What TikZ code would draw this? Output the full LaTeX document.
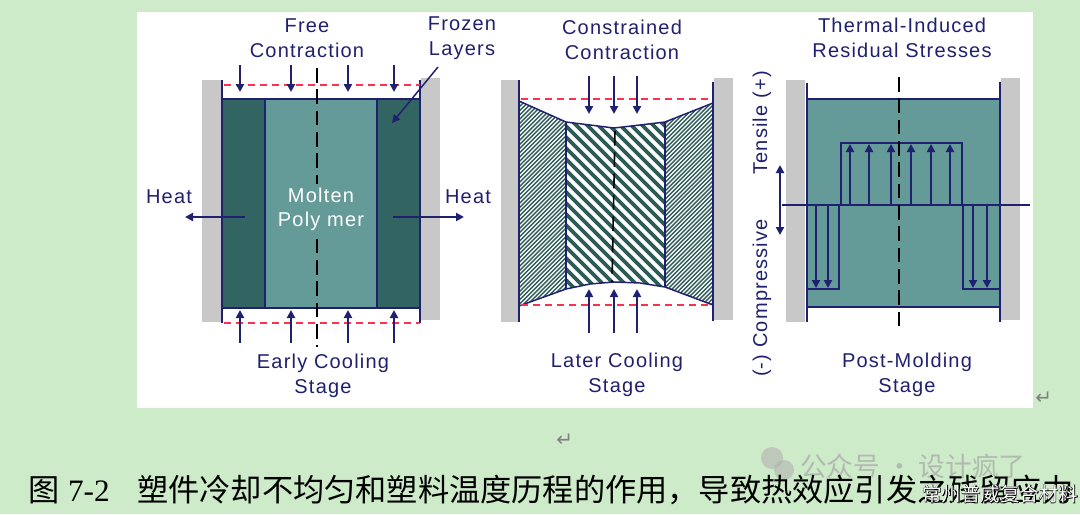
\documentclass[tikz,border=0pt]{standalone}
\usepackage{fontspec}
\setmainfont{Liberation Sans}
\newfontfamily\lblfont[LetterSpace=6]{Liberation Sans}
\newfontfamily\cjk{Noto Sans CJK SC}
\newfontfamily\cjkbold[FakeBold=4]{Noto Sans CJK SC}
\newfontfamily\capserif{Liberation Serif}
\newfontfamily\dvs{DejaVu Sans}
\usetikzlibrary{arrows.meta}
\definecolor{navy}{RGB}{32,32,112}
\definecolor{dteal}{RGB}{50,100,98}
\definecolor{lteal}{RGB}{100,154,152}
\definecolor{hatch}{RGB}{45,92,88}
\definecolor{wallgray}{RGB}{200,200,200}
\definecolor{reddash}{RGB}{250,50,80}
\definecolor{bggreen}{RGB}{206,235,201}
\begin{document}
\begin{tikzpicture}[x=0.75pt,y=-0.75pt,
  lbl/.style={text=navy, font=\lblfont\fontsize{15}{18.7}\selectfont, align=center, inner sep=0pt},
  wallbox/.style={fill=wallgray, draw=none},
  navyline/.style={draw=navy, line width=1.5pt},
  thinnavy/.style={draw=navy, line width=1.1pt},
  reddashed/.style={draw=reddash, line width=1.4pt, dash pattern=on 5pt off 4pt},
  cline/.style={draw=black, line width=1.4pt, dash pattern=on 11pt off 5pt},
  arr/.style={draw=navy, line width=1.5pt, -{Triangle[width=6pt,length=6pt]}},
  darr/.style={draw=navy, line width=1.5pt, {Triangle[width=6pt,length=6pt]}-{Triangle[width=6pt,length=6pt]}},
  retglyph/.style={text=gray, font=\dvs\fontsize{15}{18}\selectfont, inner sep=0pt}
]
\useasboundingbox (0,0) rectangle (1080,514);
\fill[bggreen] (0,0) rectangle (1080,514);
\fill[white] (137,12) rectangle (1033,408);

% ================= LEFT PANEL =================
\fill[wallbox] (202,80) rectangle (221,322);
\fill[wallbox] (421,78) rectangle (440,320);
\fill[dteal] (222,99) rectangle (265,308);
\fill[dteal] (377,99) rectangle (420,308);
\fill[lteal] (265,99) rectangle (377,308);
\draw[navyline] (222,99) rectangle (420,308);
\draw[navyline] (265,99) -- (265,308);
\draw[navyline] (377,99) -- (377,308);
\draw[navyline] (222,80) -- (222,323);
\draw[navyline] (420,80) -- (420,323);
\draw[reddashed] (224,85) -- (420,85);
\draw[reddashed] (224,323) -- (420,323);
\foreach \x [count=\i] in {240,291,348,394} {
  \coordinate (lta\i) at (\x,65);
  \coordinate (ltb\i) at (\x,92);
  \coordinate (lba\i) at (\x,343);
  \coordinate (lbb\i) at (\x,310);
  \draw[arr] (lta\i) -- (ltb\i);
  \draw[arr] (lba\i) -- (lbb\i);
}
\coordinate (lc1) at (317,68);
\coordinate (lc2) at (317,347);
\draw[cline] (lc1) -- (lc2);
\node[fill=lteal, text=white, font=\lblfont\fontsize{15}{18}\selectfont, align=center, inner sep=3pt] (molten) at (321,209) {Molten\\Poly mer};
\coordinate (hl1) at (245,217);
\coordinate (hl2) at (185,217);
\coordinate (hr1) at (393,217);
\coordinate (hr2) at (464,217);
\draw[arr] (hl1) -- (hl2);
\draw[arr] (hr1) -- (hr2);
\node[lbl] (heatL) at (169,197) {Heat};
\node[lbl] (heatR) at (468,197) {Heat};
\node[lbl] (freec) at (307,38) {Free\\Contraction};
\node[lbl] (frozen) at (462,38) {Frozen\\Layers};
\coordinate (fz1) at (438,67);
\coordinate (fz2) at (392,123);
\draw[draw=navy, line width=1.1pt, -{Triangle[width=6pt,length=6pt]}] (fz1) -- (fz2);
\node[lbl] (early) at (323,376) {Early Cooling\\Stage};

% ================= MIDDLE PANEL =================
\fill[wallbox] (501,80) rectangle (518,322);
\fill[wallbox] (714,78) rectangle (733,320);
\begin{scope}
  \clip (519,101) -- (566,122) -- (566,289) -- (519,306) -- cycle;
  \foreach \x in {250,254.2,...,640} { \draw[hatch, line width=1.05pt] (\x,330) -- ++(260,-260); }
\end{scope}
\begin{scope}
  \clip (665,122) -- (713,103) -- (713,305) -- (665,287) -- cycle;
  \foreach \x in {400,404.2,...,800} { \draw[hatch, line width=1.05pt] (\x,330) -- ++(260,-260); }
\end{scope}
\begin{scope}
  \clip (566,122) -- (590,125) -- (614,128) -- (640,125) -- (665,122) -- (665,287) -- (640,283) -- (614,282) -- (590,284) -- (566,289) -- cycle;
  \foreach \x in {300,311,...,700} { \draw[hatch, line width=2.8pt] (\x,80) -- ++(260,260); }
\end{scope}
\draw[thinnavy, line join=round] (519,101) -- (566,122) -- (590,125) -- (614,128) -- (640,125) -- (665,122) -- (713,103);
\draw[thinnavy, line join=round] (519,306) -- (566,289) -- (590,284) -- (614,282) -- (640,283) -- (665,287) -- (713,305);
\draw[thinnavy] (566,122) -- (566,289);
\draw[thinnavy] (665,122) -- (665,287);
\draw[navyline] (519,80) -- (519,322);
\draw[navyline] (713,82) -- (713,321);
\draw[reddashed] (521,99) -- (711,99);
\draw[reddashed] (521,305) -- (711,305);
\coordinate (mc1) at (615,131);
\coordinate (mc2) at (612,282);
\draw[cline, line width=1.2pt] (mc1) -- (mc2);
\foreach \x [count=\i] in {589,614,637} {
  \coordinate (mta\i) at (\x,76);
  \coordinate (mtb\i) at (\x,114);
  \coordinate (mba\i) at (\x,333);
  \coordinate (mbb\i) at (\x,289);
  \draw[arr] (mta\i) -- (mtb\i);
  \draw[arr] (mba\i) -- (mbb\i);
}
\node[lbl] (constr) at (622,40) {Constrained\\Contraction};
\node[lbl] (later) at (617,375) {Later Cooling\\Stage};

% ================= RIGHT PANEL =================
\fill[wallbox] (786,80) rectangle (805,322);
\fill[wallbox] (1001,78) rectangle (1020,320);
\fill[lteal] (807,99) rectangle (1000,307);
\draw[navyline] (807,99) -- (1000,99);
\draw[navyline] (807,307) -- (1000,307);
\draw[navyline] (807,83) -- (807,322);
\draw[navyline] (1000,82) -- (1000,322);
\draw[navyline] (841,205) rectangle (962,143);
\draw[navyline] (807,205) rectangle (839,289);
\draw[navyline] (963,205) rectangle (1000,289);
\foreach \x [count=\i] in {850,869,891,911,931,950} {
  \coordinate (ra\i) at (\x,205);
  \coordinate (rb\i) at (\x,144);
  \draw[arr] (ra\i) -- (rb\i);
}
\foreach \x [count=\i] in {816,828,973,987} {
  \coordinate (rc\i) at (\x,205);
  \coordinate (rd\i) at (\x,288);
  \draw[arr] (rc\i) -- (rd\i);
}
\coordinate (ax1) at (782,205);
\coordinate (ax2) at (1030,205);
\draw[navyline] (ax1) -- (ax2);
\coordinate (sa1) at (780,165);
\coordinate (sa2) at (780,235);
\draw[darr] (sa1) -- (sa2);
\coordinate (rc1c) at (899,77);
\coordinate (rc2c) at (899,333);
\draw[cline] (rc1c) -- (rc2c);
\node[lbl] (thermal) at (902,38) {Thermal-Induced\\Residual Stresses};
\node[lbl] (post) at (907,375) {Post-Molding\\Stage};
\node[lbl, rotate=90] (tensile) at (762,123) {Tensile (+)};
\node[lbl, rotate=90] (compr) at (762,298) {(-) Compressive};

% ================= CAPTION etc. =================
\node[retglyph, anchor=west] (ret1) at (1035,398) {↵};
\node[retglyph, anchor=west] (ret2) at (556,440) {↵};
\fill[gray!60, opacity=0.6] (772,458) circle (11);
\fill[gray!60, opacity=0.6] (784,470) circle (10);
\node[anchor=west, inner sep=0pt, text=gray!70, opacity=0.7, font=\cjk\fontsize{20}{24}\selectfont] (wm) at (800,466) {公众号 · 设计疯了};
\node[anchor=west, inner sep=0pt, font=\fontsize{23.4}{28}\selectfont] (cap1) at (28,490) {{\cjk 图} {\capserif 7-2}};
\node[anchor=west, inner sep=0pt, font=\cjk\fontsize{23.4}{28}\selectfont] (cap2) at (137,490) {塑件冷却不均匀和塑料温度历程的作用，导致热效应引发之残留应力};
\node[anchor=west, inner sep=0pt, text=black, font=\cjkbold\fontsize{14.6}{18}\selectfont] (wm2o) at (922,494) {常州普威复合材料};
\node[anchor=west, inner sep=0pt, text=white, font=\cjk\fontsize{14.6}{18}\selectfont] (wm2) at (922,494) {常州普威复合材料};
\end{tikzpicture}
\end{document}
